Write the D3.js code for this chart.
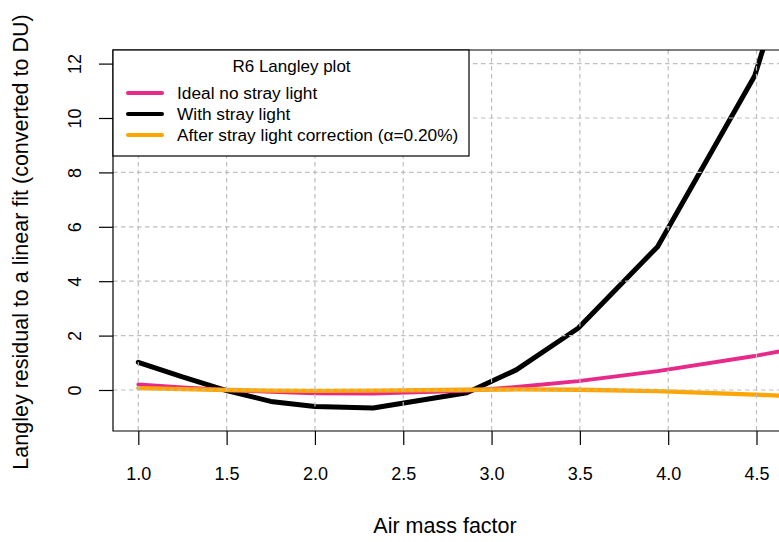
<!DOCTYPE html>
<html><head><meta charset="utf-8">
<script src="https://cdn.jsdelivr.net/npm/d3@7"></script>
<style>body{margin:0;background:#fff}svg{display:block;font-family:"Liberation Sans",Arial,sans-serif}</style>
</head><body>
<script>
const airMass = [1.0, 1.25, 1.5, 1.75, 2.0, 2.33, 2.86, 3.14, 3.49, 3.94, 4.49, 4.75];
const idealNoStray = [0.21, 0.10, 0.0, -0.07, -0.12, -0.13, -0.03, 0.11, 0.33, 0.69, 1.25, 1.56];
const withStray = [1.02, 0.48, -0.02, -0.42, -0.61, -0.66, -0.10, 0.74, 2.27, 5.27, 11.55, 17.0];
const afterCorrection = [0.07, 0.03, 0.0, -0.02, -0.03, -0.02, 0.01, 0.02, 0.01, -0.04, -0.17, -0.24];
const xTicks = [1.0, 1.5, 2.0, 2.5, 3.0, 3.5, 4.0, 4.5];
const yTicks = [0, 2, 4, 6, 8, 10, 12];
const seriesNames = ["Ideal no stray light", "With stray light", "After stray light correction (\u03b1=0.20%)"];
const seriesColors = ["#E7298A", "#000000", "#FFA500"];
const legendTitle = "R6 Langley plot";
const xLabel = "Air mass factor";
const yLabel = "Langley residual to a linear fit (converted to DU)";

const W = 779, H = 542;
const box = {left: 113, top: 50, bottom: 431, right: 800};
const x = d3.scaleLinear().domain([1, 4.5]).range([138.3, 756.5]);
const y = d3.scaleLinear().domain([0, 12]).range([390, 63.6]);

const svg = d3.select("body").append("svg").attr("width", W).attr("height", H);
svg.append("defs").append("clipPath").attr("id", "clip")
  .append("rect").attr("x", box.left).attr("y", box.top)
  .attr("width", box.right - box.left).attr("height", box.bottom - box.top);

const plot = svg.append("g").attr("clip-path", "url(#clip)");
const series = [
  {vals: withStray, color: seriesColors[1], w: 5},
  {vals: idealNoStray, color: seriesColors[0], w: 3.8},
  {vals: afterCorrection, color: seriesColors[2], w: 4.3}
];
const line = d3.line().x(d => x(d[0])).y(d => y(d[1]));
series.forEach(s => {
  plot.append("path").datum(airMass.map((a, i) => [a, s.vals[i]]))
    .attr("d", line).attr("fill", "none").attr("stroke", s.color)
    .attr("stroke-width", s.w).attr("stroke-linejoin", "round").attr("stroke-linecap", "round");
});

// grid (drawn on top of curves)
const grid = svg.append("g").attr("stroke", "#BEBEBE").attr("stroke-width", 1.2).attr("stroke-dasharray", "4.5,3.5");
xTicks.forEach(t => grid.append("line").attr("x1", x(t)).attr("x2", x(t)).attr("y1", box.top).attr("y2", box.bottom));
yTicks.forEach(t => grid.append("line").attr("x1", box.left).attr("x2", W).attr("y1", y(t)).attr("y2", y(t)));

// box
svg.append("path").attr("d", `M${box.right},${box.top}H${box.left}V${box.bottom}H${box.right}`)
  .attr("fill", "none").attr("stroke", "#000").attr("stroke-width", 1.2);

// axes
const xAxis = d3.axisBottom(x).tickValues(xTicks).tickFormat(d3.format(".1f")).tickSize(14).tickPadding(22);
const gx = svg.append("g").attr("transform", `translate(0,${box.bottom})`).call(xAxis);
gx.select(".domain").remove();
gx.selectAll("line").attr("stroke", "#000").attr("stroke-width", 1.2);
gx.selectAll("text").attr("font-size", 18).attr("fill", "#000").attr("font-family", "Liberation Sans, Arial, sans-serif");

const yAxis = d3.axisLeft(y).tickValues(yTicks).tickSize(14).tickFormat(d3.format("d"));
const gy = svg.append("g").attr("transform", `translate(${box.left},0)`).call(yAxis);
gy.select(".domain").remove();
gy.selectAll("line").attr("stroke", "#000").attr("stroke-width", 1.2);
gy.selectAll("text").attr("font-size", 18).attr("fill", "#000")
  .attr("font-family", "Liberation Sans, Arial, sans-serif")
  .attr("x", null).attr("dy", null)
  .attr("text-anchor", "middle")
  .attr("transform", "translate(-32.5,0) rotate(-90)");

// axis titles
svg.append("text").attr("x", 445).attr("y", 533).attr("text-anchor", "middle")
  .attr("font-size", 21.5).text(xLabel);
svg.append("text").attr("transform", "translate(28,242) rotate(-90)").attr("text-anchor", "middle")
  .attr("font-size", 21.5).text(yLabel);

// legend
const lg = svg.append("g");
lg.append("rect").attr("x", box.left).attr("y", box.top).attr("width", 469 - box.left).attr("height", 156 - box.top)
  .attr("fill", "#fff").attr("stroke", "#000").attr("stroke-width", 1.2);
lg.append("text").attr("x", 291.5).attr("y", 71.5).attr("text-anchor", "middle").attr("font-size", 17).text(legendTitle);
const ly = [93, 114, 135];
seriesNames.forEach((n, i) => {
  lg.append("line").attr("x1", 128).attr("x2", 162).attr("y1", ly[i]).attr("y2", ly[i])
    .attr("stroke", seriesColors[i]).attr("stroke-width", 4).attr("stroke-linecap", "round");
  lg.append("text").attr("x", 177).attr("y", ly[i] + 6.3).attr("font-size", 17.3).text(n);
});
</script>
</body></html>
